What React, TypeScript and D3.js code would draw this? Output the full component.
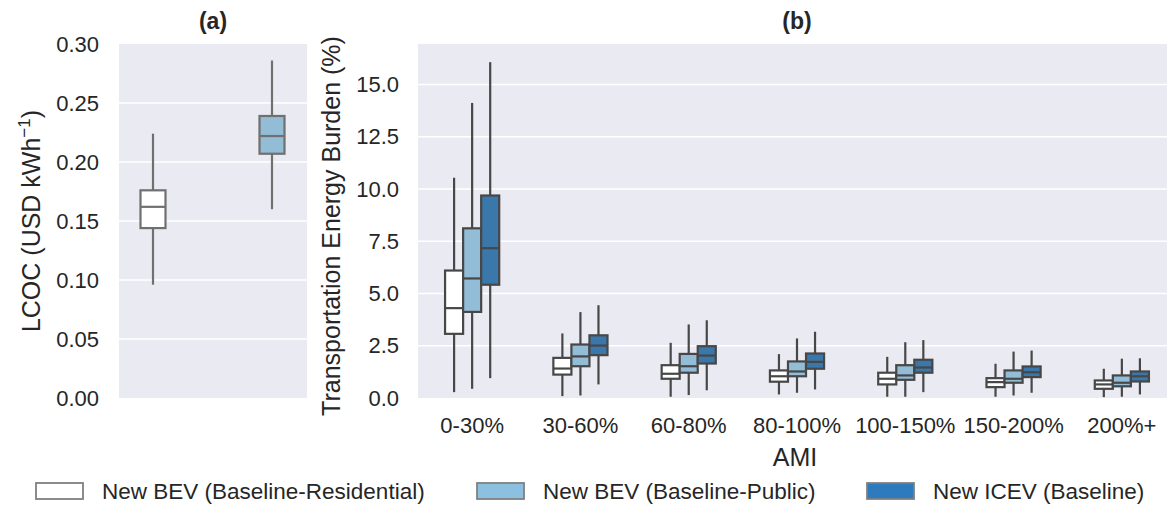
import React from "react";
import * as d3 from "d3";

// ---------- Data ----------
const lcocGroups = ["New BEV (Baseline-Residential)", "New BEV (Baseline-Public)"];
// [whiskerLow, q1, median, q3, whiskerHigh]
const lcocStats = [
  [0.096, 0.144, 0.162, 0.176, 0.224],
  [0.160, 0.207, 0.222, 0.239, 0.286],
];
const lcocTicks = [0, 0.05, 0.1, 0.15, 0.2, 0.25, 0.3];

const amiCategories = ["0-30%", "30-60%", "60-80%", "80-100%", "100-150%", "150-200%", "200%+"];
const hues = ["New BEV (Baseline-Residential)", "New BEV (Baseline-Public)", "New ICEV (Baseline)"];
// per category: [whiskerLow, q1, median, q3, whiskerHigh]
const bevResidential = [
  [0.28, 3.07, 4.3, 6.1, 10.54],
  [0.09, 1.12, 1.41, 1.92, 3.09],
  [0.06, 0.92, 1.16, 1.57, 2.64],
  [0.17, 0.78, 1.04, 1.32, 2.1],
  [0.06, 0.65, 0.92, 1.21, 1.97],
  [0.06, 0.52, 0.76, 0.95, 1.64],
  [0.04, 0.44, 0.65, 0.84, 1.4],
];
const bevPublic = [
  [0.44, 4.12, 5.72, 8.12, 14.12],
  [0.12, 1.52, 1.99, 2.56, 4.11],
  [0.14, 1.21, 1.52, 2.11, 3.52],
  [0.25, 1.04, 1.27, 1.75, 2.85],
  [0.06, 0.87, 1.08, 1.57, 2.67],
  [0.12, 0.73, 0.92, 1.32, 2.22],
  [0.06, 0.56, 0.73, 1.08, 1.88],
];
const icev = [
  [0.95, 5.42, 7.17, 9.69, 16.07],
  [0.65, 2.05, 2.51, 3.0, 4.44],
  [0.37, 1.65, 2.03, 2.48, 3.72],
  [0.41, 1.4, 1.73, 2.13, 3.17],
  [0.28, 1.21, 1.46, 1.83, 2.77],
  [0.25, 1.0, 1.23, 1.51, 2.27],
  [0.17, 0.79, 1.04, 1.27, 1.9],
];
const burdenTicks = [0, 2.5, 5, 7.5, 10, 12.5, 15];

// ---------- Styles ----------
const boxFill = ["#ffffff", "#93bcd6", "#3a77aa"];
const legendFill = ["#ffffff", "#8cc0e0", "#2d7bbd"];
const FONT = "'Liberation Sans', Arial, sans-serif";
const BG = "#eaeaf2";
const TXT = "#262626";
const TICK_FS = 22;
const LABEL_FS = 25;

type Stat = number[];

function Box({ cx, w, s, y, fill, stroke }: { cx: number; w: number; s: Stat; y: (v: number) => number; fill: string; stroke: string }) {
  const [lo, q1, med, q3, hi] = s;
  return (
    <g stroke={stroke} strokeWidth={2.2}>
      <line x1={cx} x2={cx} y1={y(lo)} y2={y(q1)} />
      <line x1={cx} x2={cx} y1={y(q3)} y2={y(hi)} />
      <rect x={cx - w / 2} y={y(q3)} width={w} height={y(q1) - y(q3)} fill={fill} />
      <line x1={cx - w / 2} x2={cx + w / 2} y1={y(med)} y2={y(med)} />
    </g>
  );
}

export default function App() {
  // panel a
  const aL = 119, aR = 307, top = 44, bottom = 398;
  const ya = d3.scaleLinear().domain([0, 0.3]).range([bottom, top]);
  const xa = d3.scalePoint<string>().domain(lcocGroups).range([153, 272]);

  // panel b
  const bL = 418, bR = 1176;
  const yb = d3.scaleLinear().domain([0, 16.94]).range([bottom, top]);
  const xb = d3.scaleBand<string>().domain(amiCategories).range([bL, bR]).padding(0);
  const bw = xb.bandwidth();
  const xh = d3.scaleBand<string>().domain(hues).range([-0.25 * bw, 0.25 * bw]).padding(0);
  const seriesB = [bevResidential, bevPublic, icev];

  const legendX = [36, 477, 867];

  return (
    <svg width={1167} height={506} style={{ position: "absolute", left: 0, top: 0, background: "#fff" }} fontFamily={FONT}>
      {/* Panel a */}
      <rect x={aL} y={top} width={aR - aL} height={bottom - top} fill={BG} />
      {lcocTicks.map((t) => (
        <g key={"ga" + t}>
          {t > 0 && t < 0.3 && <line x1={aL} x2={aR} y1={ya(t)} y2={ya(t)} stroke="#fff" strokeWidth={1.6} />}
          <text x={99} y={ya(t)} dy="0.35em" textAnchor="end" fontSize={TICK_FS} fill={TXT}>
            {d3.format(".2f")(t)}
          </text>
        </g>
      ))}
      {lcocStats.map((s, i) => (
        <Box key={"ba" + i} cx={xa(lcocGroups[i])!} w={25} s={s} y={ya} fill={boxFill[i]} stroke="#707070" />
      ))}
      <text x={213} y={29} textAnchor="middle" fontSize={23} fontWeight="bold" fill={TXT}>(a)</text>
      <text transform={`translate(40,${(top + bottom) / 2}) rotate(-90)`} textAnchor="middle" fontSize={LABEL_FS} fill={TXT}>
        LCOC (USD kWh<tspan dy={-10} fontSize={17}>−1</tspan><tspan dy={10}>)</tspan>
      </text>

      {/* Panel b */}
      <rect x={bL} y={top} width={bR - bL} height={bottom - top} fill={BG} />
      {burdenTicks.map((t) => (
        <g key={"gb" + t}>
          {t > 0 && <line x1={bL} x2={bR} y1={yb(t)} y2={yb(t)} stroke="#fff" strokeWidth={1.6} />}
          <text x={399} y={yb(t)} dy="0.35em" textAnchor="end" fontSize={TICK_FS} fill={TXT}>
            {d3.format(".1f")(t)}
          </text>
        </g>
      ))}
      {amiCategories.map((c, ci) => (
        <g key={"cat" + c}>
          {hues.map((h, hi) => (
            <Box
              key={h}
              cx={xb(c)! + bw / 2 + xh(h)! + xh.bandwidth() / 2}
              w={xh.bandwidth()}
              s={seriesB[hi][ci]}
              y={yb}
              fill={boxFill[hi]}
              stroke="#474747"
            />
          ))}
          <text x={xb(c)! + bw / 2} y={425} dy="0.35em" textAnchor="middle" fontSize={TICK_FS} fill={TXT}>
            {c}
          </text>
        </g>
      ))}
      <text x={797} y={29} textAnchor="middle" fontSize={23} fontWeight="bold" fill={TXT}>(b)</text>
      <text x={(bL + bR) / 2 - 2} y={457} dy="0.35em" textAnchor="middle" fontSize={LABEL_FS} fill={TXT}>AMI</text>
      <text transform={`translate(340,${(top + bottom) / 2 + 5}) rotate(-90)`} textAnchor="middle" fontSize={LABEL_FS} fill={TXT}>
        Transportation Energy Burden (%)
      </text>

      {/* Legend */}
      {hues.map((h, i) => (
        <g key={"leg" + h}>
          <rect x={legendX[i]} y={483} width={47} height={16} fill={legendFill[i]} stroke="#808080" strokeWidth={1.8} />
          <text x={legendX[i] + 66} y={491} dy="0.35em" fontSize={22.5} fill={TXT}>{h}</text>
        </g>
      ))}
    </svg>
  );
}
